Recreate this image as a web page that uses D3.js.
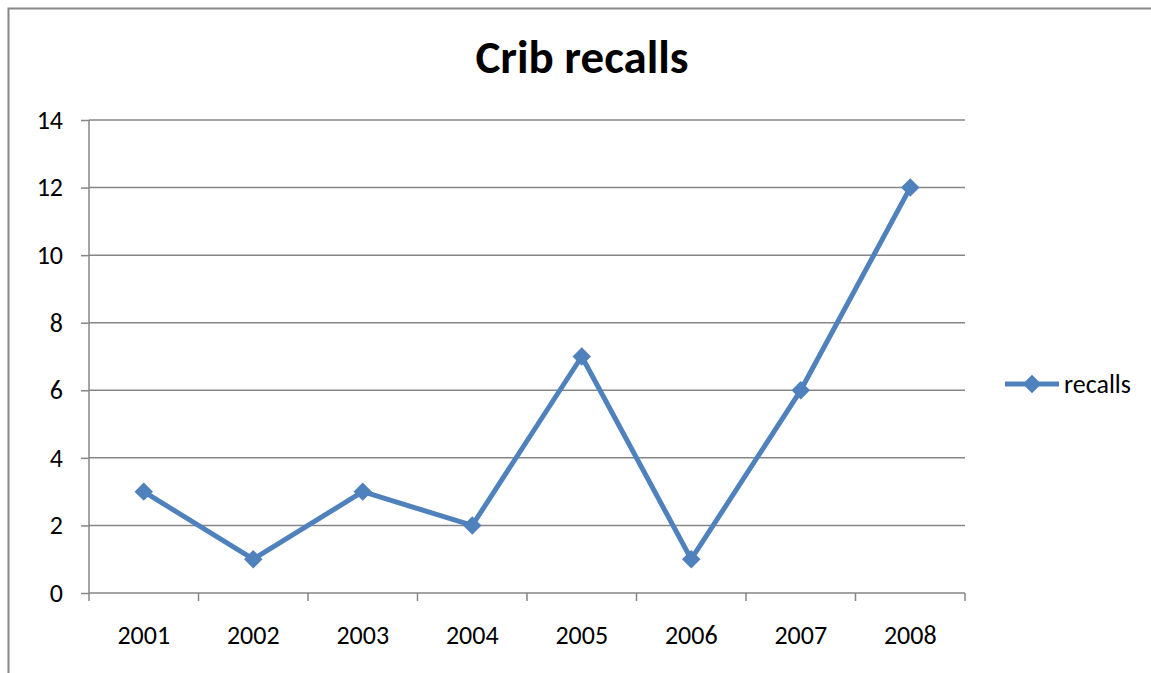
<!DOCTYPE html>
<html>
<head>
<meta charset="utf-8">
<script src="https://cdn.jsdelivr.net/npm/d3@7"></script>
<style>
  body { margin: 0; background: #fff; }
  svg { display: block; font-family: Carlito, Lato, sans-serif; }
</style>
</head>
<body>
<div id="chart"></div>
<script>
// Data
var years = ["2001", "2002", "2003", "2004", "2005", "2006", "2007", "2008"];
var recalls = [3, 1, 3, 2, 7, 1, 6, 12];
var yTicks = [0, 2, 4, 6, 8, 10, 12, 14];
var seriesName = "recalls";
var title = "Crib recalls";

var W = 1151, H = 673;
var plot = {left: 89, top: 120, right: 965, bottom: 593};
var blue = "#4F81BD", grid = "#868686";

var svg = d3.select("#chart")
  .append("svg")
    .attr("width", W)
    .attr("height", H);

// chart border (cropped at right and bottom)
svg.append("path")
  .attr("d", `M8.5,${H + 2}V8.5H${W + 2}`)
  .attr("fill", "none")
  .attr("stroke", "#888")
  .attr("stroke-width", 2);

// scales
var x = d3.scaleBand()
  .domain(years)
  .range([plot.left, plot.right]);

var y = d3.scaleLinear()
  .domain([0, 14])
  .range([plot.bottom, plot.top]);

// gridlines + y axis
var yAxis = svg.append("g")
  .attr("transform", `translate(${plot.left},0)`)
  .call(d3.axisLeft(y).tickValues(yTicks).tickSize(8).tickPadding(18));
yAxis.select(".domain").remove();
yAxis.selectAll(".tick line").attr("stroke", grid).attr("stroke-width", 1.5);
yAxis.selectAll(".tick text")
  .attr("font-size", 26)
  .attr("fill", "#000")
  .attr("font-family", "Carlito, Lato, sans-serif");

svg.append("g")
  .selectAll("line")
  .data(yTicks)
  .enter()
  .append("line")
    .attr("x1", plot.left)
    .attr("x2", plot.right)
    .attr("y1", d => y(d))
    .attr("y2", d => y(d))
    .attr("stroke", grid)
    .attr("stroke-width", 1.5);

// left axis line
svg.append("line")
  .attr("x1", plot.left).attr("x2", plot.left)
  .attr("y1", plot.top).attr("y2", plot.bottom)
  .attr("stroke", grid).attr("stroke-width", 1.5);

// x axis
var xAxis = svg.append("g")
  .attr("transform", `translate(0,${plot.bottom})`);
xAxis.selectAll("line.tk")
  .data(years.concat(["end"]))
  .enter()
  .append("line")
    .attr("class", "tk")
    .attr("x1", (d, i) => i < years.length ? x(d) : plot.right)
    .attr("x2", (d, i) => i < years.length ? x(d) : plot.right)
    .attr("y1", 0)
    .attr("y2", 8)
    .attr("stroke", grid)
    .attr("stroke-width", 1.5);
xAxis.selectAll("text")
  .data(years)
  .enter()
  .append("text")
    .attr("x", d => x(d) + x.bandwidth() / 2)
    .attr("y", 51)
    .attr("text-anchor", "middle")
    .attr("font-size", 26)
    .text(d => d);

// line
var line = d3.line()
  .x((d, i) => x(years[i]) + x.bandwidth() / 2)
  .y(d => y(d));

svg.append("path")
  .datum(recalls)
  .attr("d", line)
  .attr("fill", "none")
  .attr("stroke", blue)
  .attr("stroke-width", 5)
  .attr("stroke-linejoin", "round");

var diamond = d3.symbol().type(d3.symbolSquare).size(170);
svg.selectAll("path.mk")
  .data(recalls)
  .enter()
  .append("path")
    .attr("class", "mk")
    .attr("d", diamond)
    .attr("transform", (d, i) => `translate(${x(years[i]) + x.bandwidth() / 2},${y(d)}) rotate(45)`)
    .attr("fill", blue);

// title
svg.append("text")
  .attr("x", 582)
  .attr("y", 73)
  .attr("text-anchor", "middle")
  .attr("font-size", 47)
  .attr("font-weight", "bold")
  .text(title);

// legend
var lg = svg.append("g").attr("transform", "translate(1005,384)");
lg.append("line")
  .attr("x1", 0).attr("x2", 54)
  .attr("stroke", blue).attr("stroke-width", 5);
lg.append("path")
  .attr("d", diamond)
  .attr("transform", "translate(27,0) rotate(45)")
  .attr("fill", blue);
lg.append("text")
  .attr("x", 59)
  .attr("y", 9)
  .attr("font-size", 26)
  .text(seriesName);
</script>
</body>
</html>
